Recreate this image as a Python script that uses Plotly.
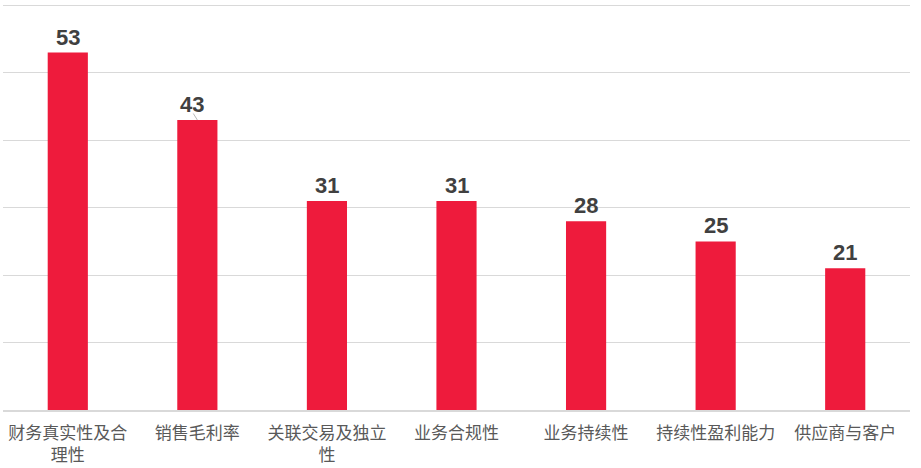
import plotly.graph_objects as go

categories = ["财务真实性及合<br>理性", "销售毛利率", "关联交易及独立<br>性", "业务合规性",
              "业务持续性", "持续性盈利能力", "供应商与客户"]
values = [53, 43, 31, 31, 28, 25, 21]

BAR_COLOR = "#EE1B3C"
LABEL_COLOR = "#404040"
TICK_COLOR = "#595959"
GRID_COLOR = "#D9D9D9"

fig = go.Figure(go.Bar(
    x=categories, y=values,
    marker=dict(color=BAR_COLOR, line=dict(width=0)),
    hoverinfo="x+y",
))

# value labels sit a little above each bar
for i, (c, v) in enumerate(zip(categories, values)):
    fig.add_annotation(x=c, y=v, text=str(v), showarrow=False,
                       yanchor="bottom", yshift=1, xshift=-5 if i == 1 else 0,
                       font=dict(family="Liberation Sans, Arial", size=22,
                                 color=LABEL_COLOR, weight="bold"))

# small leader line on the 43 label, as in the original
fig.add_annotation(x=categories[1], y=values[1], text="", showarrow=True,
                   arrowhead=0, arrowwidth=0.8, arrowcolor="#A6A6A6",
                   ax=-5, ay=-8)

fig.update_layout(
    width=921, height=468,
    margin=dict(l=3, r=11, t=4, b=58),
    paper_bgcolor="white", plot_bgcolor="white",
    bargap=0.69, showlegend=False,
    xaxis=dict(tickfont=dict(family="Noto Sans CJK SC", size=17, color=TICK_COLOR),
               showline=True, linecolor=GRID_COLOR, linewidth=1.5, ticks="",
               ticklabelstandoff=7, automargin=False),
    yaxis=dict(range=[0, 60.2], tickvals=[0, 10, 20, 30, 40, 50, 60],
               showticklabels=False, showgrid=True, gridcolor=GRID_COLOR,
               gridwidth=1, zeroline=False, automargin=False),
)

# drop the default page margin so the chart fills the window
fig.write_html("out.html", config={"displayModeBar": False},
               post_script="document.body.style.margin='0';"
                           "document.body.style.overflow='hidden';")
